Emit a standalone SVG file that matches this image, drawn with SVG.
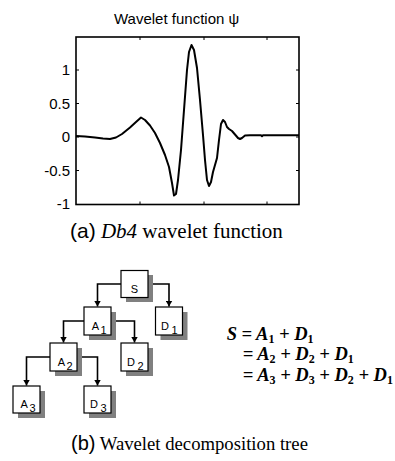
<svg xmlns="http://www.w3.org/2000/svg" width="395" height="461" viewBox="0 0 395 461">
<defs>
<style>
.ax{font-family:"Liberation Sans",Arial,sans-serif;font-size:15px;fill:#000}
.box{fill:#fff;stroke:#000;stroke-width:1.2}
.sh{fill:#808080}
.lbl{font-family:"Liberation Sans",Arial,sans-serif;font-size:11px;fill:#000}
.con{fill:none;stroke:#000;stroke-width:1.6}
.eq{font-family:"Liberation Serif","Times New Roman",serif;font-size:18.5px;font-weight:bold;font-style:italic;fill:#000}
.sub{font-size:12px;font-style:normal}
.cap{font-family:"Liberation Serif","Times New Roman",serif;fill:#000}
.capa{font-family:"Liberation Sans",Arial,sans-serif}
</style>
<marker id="ah" markerWidth="7" markerHeight="7" refX="6" refY="3.5" orient="auto" markerUnits="userSpaceOnUse">
<path d="M0,0 L6,3.5 L0,7 Z" fill="#000"/>
</marker>
</defs>
<rect width="395" height="461" fill="#fff"/>

<g id="plot">
<text class="ax" x="114" y="24" font-size="16">Wavelet function ψ</text>
<rect x="76" y="37" width="223" height="167.5" fill="none" stroke="#000" stroke-width="1.6"/>
<g stroke="#000" stroke-width="1">
<path d="M76,70h3M76,103.5h3M76,137h3M76,170.5h3M299,70h-3M299,103.5h-3M299,137h-3M299,170.5h-3M140,37v3M204,37v3M267,37v3M140,204.5v-3M204,204.5v-3M267,204.5v-3"/>
</g>
<g class="ax" text-anchor="end">
<text x="70" y="75">1</text>
<text x="70" y="108.5">0.5</text>
<text x="70" y="142">0</text>
<text x="70" y="175.5">-0.5</text>
<text x="70" y="209">-1</text>
</g>
<path fill="none" stroke="#000" stroke-width="2" stroke-linejoin="round" d="M76,136 L85,136.5 L95,137.5 L103,138.5 L110,139 L116,137.5 L122,134 L130,127.5 L136,122 L141,117.5 L145,120 L150,125.5 L155,133 L160,143 L165,155 L169,167 L172,183 L174,195.5 L176,194 L178,180 L181,150 L184,110 L187,70 L189,52 L191.5,45 L194,50 L197,68 L200,100 L203,135 L205,160 L207,180 L209,186 L211,182 L213,172 L215,165 L217,158 L219,140 L221,124 L223,120 L225,122 L227,127 L229,129 L232,131 L235,134.5 L238,138 L240,139 L242,138 L245,135.5 L250,135.3 L261,135.3 L262,136.3 L263,135.3 L299,135.3"/>
</g>
<text class="cap" x="70" y="238" font-size="21"><tspan class="capa">(a)</tspan> <tspan font-style="italic">Db4</tspan> wavelet function</text>

<g id="connectors">
<path class="con" marker-end="url(#ah)" d="M121,284 H97.5 V306.5"/>
<path class="con" marker-end="url(#ah)" d="M148,284 H169 V306.5"/>
<path class="con" marker-end="url(#ah)" d="M84,321 H63.5 V342.5"/>
<path class="con" marker-end="url(#ah)" d="M111,321 H134.5 V342.5"/>
<path class="con" marker-end="url(#ah)" d="M50,357 H26.5 V385.5"/>
<path class="con" marker-end="url(#ah)" d="M77,357 H97.5 V385.5"/>
</g>

<g id="S"><rect class="sh" x="126" y="275" width="27" height="27"/><rect class="box" x="121" y="270.5" width="27" height="27"/><text class="lbl" x="134.5" y="292.5" text-anchor="middle">S</text></g>
<g id="A1"><rect class="sh" x="89" y="312" width="27" height="28"/><rect class="box" x="84" y="307" width="27" height="28"/><text class="lbl" x="91.7" y="330">A</text><text class="lbl" x="100.5" y="334">1</text></g>
<g id="D1"><rect class="sh" x="160.5" y="312" width="27" height="28"/><rect class="box" x="155.5" y="307" width="27" height="28"/><text class="lbl" x="161" y="330">D</text><text class="lbl" x="171.5" y="334">1</text></g>
<g id="A2"><rect class="sh" x="55" y="348" width="27" height="28"/><rect class="box" x="50" y="343" width="27" height="28"/><text class="lbl" x="57.7" y="366">A</text><text class="lbl" x="66.5" y="370">2</text></g>
<g id="D2"><rect class="sh" x="126" y="348" width="27" height="28"/><rect class="box" x="121" y="343" width="27" height="28"/><text class="lbl" x="127" y="366">D</text><text class="lbl" x="137.5" y="370">2</text></g>
<g id="A3"><rect class="sh" x="18" y="391" width="27" height="27"/><rect class="box" x="13" y="386" width="27" height="27"/><text class="lbl" x="20.5" y="408">A</text><text class="lbl" x="29.5" y="412">3</text></g>
<g id="D3"><rect class="sh" x="89" y="391" width="27" height="27"/><rect class="box" x="84" y="386" width="27" height="27"/><text class="lbl" x="90" y="408">D</text><text class="lbl" x="100.5" y="412">3</text></g>

<g id="equations" class="eq">
<text x="226.7" y="340">S = A<tspan class="sub" dy="3">1</tspan><tspan dy="-3"> + D</tspan><tspan class="sub" dy="3">1</tspan></text>
<text x="242.7" y="360">= A<tspan class="sub" dy="3">2</tspan><tspan dy="-3"> + D</tspan><tspan class="sub" dy="3">2</tspan><tspan dy="-3"> + D</tspan><tspan class="sub" dy="3">1</tspan></text>
<text x="242.7" y="381">= A<tspan class="sub" dy="3">3</tspan><tspan dy="-3"> + D</tspan><tspan class="sub" dy="3">3</tspan><tspan dy="-3"> + D</tspan><tspan class="sub" dy="3">2</tspan><tspan dy="-3"> + D</tspan><tspan class="sub" dy="3">1</tspan></text>
</g>
<text class="cap" x="71" y="450" font-size="18.7"><tspan class="capa" font-size="20">(b)</tspan> Wavelet decomposition tree</text>
</svg>
